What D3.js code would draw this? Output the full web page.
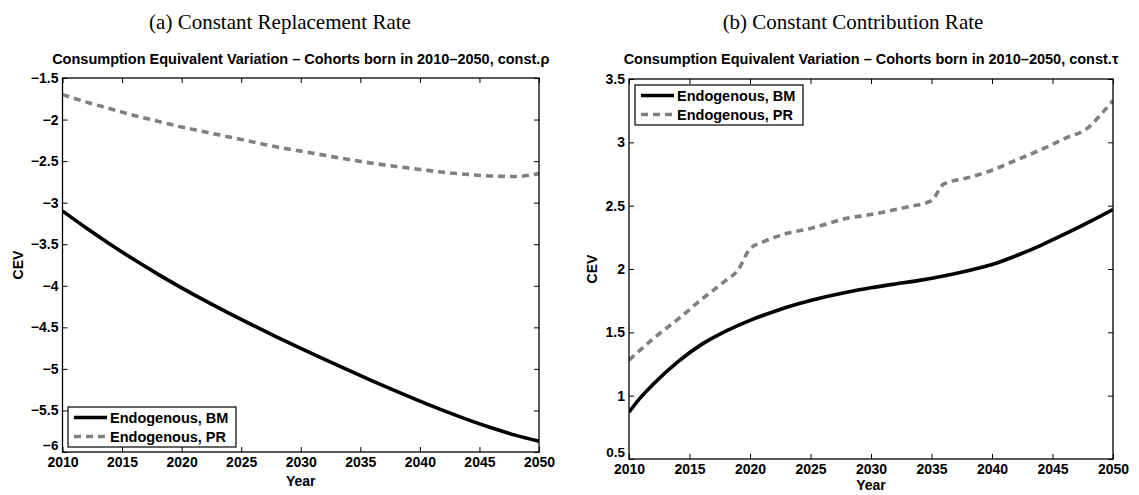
<!DOCTYPE html>
<html><head><meta charset="utf-8">
<script src="https://cdn.jsdelivr.net/npm/d3@7"></script>
<style>
body{margin:0;background:#fff;}
svg{display:block;}
</style></head>
<body><svg id="chart" width="1139" height="495"></svg>
<script>
// ---- data ----
const captions = ["(a) Constant Replacement Rate", "(b) Constant Contribution Rate"];
const chartTitles = ["Consumption Equivalent Variation \u2013 Cohorts born in 2010\u20132050, const.\u03c1",
                     "Consumption Equivalent Variation \u2013 Cohorts born in 2010\u20132050, const.\u03c4"];
const seriesNames = ["Endogenous, BM", "Endogenous, PR"];
const xTicks = [2010, 2015, 2020, 2025, 2030, 2035, 2040, 2045, 2050];
const xTickLabels = ["2010","2015","2020","2025","2030","2035","2040","2045","2050"];
const yTicksA = [-6, -5.5, -5, -4.5, -4, -3.5, -3, -2.5, -2, -1.5];
const yTickLabelsA = ["\u22126","\u22125.5","\u22125","\u22124.5","\u22124","\u22123.5","\u22123","\u22122.5","\u22122","\u22121.5"];
const yTicksB = [0.5, 1, 1.5, 2, 2.5, 3, 3.5];
const yTickLabelsB = ["0.5","1","1.5","2","2.5","3","3.5"];

const yearsA = [2010,2012,2014,2016,2018,2020,2022,2024,2026,2028,2030,2032,2034,2036,2038,2040,2042,2044,2046,2048,2050];
const bmA = [-3.10,-3.305,-3.50,-3.685,-3.86,-4.025,-4.182,-4.332,-4.477,-4.617,-4.753,-4.886,-5.016,-5.143,-5.267,-5.387,-5.502,-5.61,-5.709,-5.797,-5.87];
const prA = [-1.70,-1.79,-1.87,-1.95,-2.02,-2.09,-2.15,-2.21,-2.27,-2.33,-2.38,-2.43,-2.48,-2.525,-2.565,-2.60,-2.635,-2.66,-2.68,-2.685,-2.65];

const yearsBM_B = [2010,2011,2012,2014,2016,2018,2020,2022,2024,2026,2028,2030,2032,2034,2036,2038,2040,2042,2044,2046,2048,2050];
const bmB = [0.87,0.99,1.09,1.265,1.405,1.51,1.595,1.665,1.725,1.775,1.817,1.852,1.882,1.91,1.945,1.987,2.035,2.105,2.185,2.275,2.37,2.47];
const yearsPR_B = [2010,2012,2014,2016,2018,2019,2020,2021,2023,2025,2028,2030,2033,2035,2036,2038,2040,2042,2044,2046,2048,2049,2050];
const prB = [1.28,1.45,1.60,1.76,1.91,1.99,2.16,2.21,2.28,2.32,2.40,2.43,2.49,2.54,2.67,2.72,2.78,2.86,2.94,3.03,3.12,3.22,3.33];

// ---- layout ----
const panels = [
  {caption: captions[0], title: chartTitles[0], x0: 62.5, x1: 539, y0: 78, y1: 452,
   yDomain: [-6, -1.5], yTicks: yTicksA, yLabels: yTickLabelsA,
   bm: yearsA.map((y,i)=>[y,bmA[i]]), pr: yearsA.map((y,i)=>[y,prA[i]]),
   capX: 280, ylabX: 18, yearY: 486, legend: {x: 68, y: 407}},
  {caption: captions[1], title: chartTitles[1], x0: 629, x1: 1113, y0: 79, y1: 459,
   yDomain: [0.5, 3.5], yTicks: yTicksB, yLabels: yTickLabelsB,
   bm: yearsBM_B.map((y,i)=>[y,bmB[i]]), pr: yearsPR_B.map((y,i)=>[y,prB[i]]),
   capX: 853, ylabX: 592, yearY: 490, legend: {x: 635, y: 85}}
];

const svg = d3.select("#chart");
const font = "'Liberation Sans', Arial, Helvetica, sans-serif";
const serif = "'Liberation Serif', 'Times New Roman', serif";
const gray = "#808080";

panels.forEach(p => {
  const x = d3.scaleLinear().domain([2010, 2050]).range([p.x0, p.x1]);
  const y = d3.scaleLinear().domain(p.yDomain).range([p.y1, p.y0]);
  const g = svg.append("g");

  // caption
  g.append("text").attr("x", p.capX).attr("y", 29).attr("text-anchor", "middle")
    .attr("font-family", serif).attr("font-size", 21).text(p.caption);

  // chart title
  g.append("text").attr("x", (p.x0 + p.x1) / 2).attr("y", 64).attr("text-anchor", "middle")
    .attr("font-family", font).attr("font-weight", "bold").attr("font-size", 14.5)
    .text(p.title);

  // axes
  const xAxisB = d3.axisBottom(x).tickValues(xTicks).tickFormat((d,i)=>xTickLabels[i])
    .tickSizeInner(-5).tickSizeOuter(0).tickPadding(5);
  const xAxisT = d3.axisTop(x).tickValues(xTicks).tickFormat("").tickSizeInner(-5).tickSizeOuter(0);
  const yAxisL = d3.axisLeft(y).tickValues(p.yTicks).tickFormat((d,i)=>p.yLabels[i])
    .tickSizeInner(-5).tickSizeOuter(0).tickPadding(4);
  const yAxisR = d3.axisRight(y).tickValues(p.yTicks).tickFormat("").tickSizeInner(-5).tickSizeOuter(0);

  const styleAxis = sel => {
    sel.select(".domain").remove();
    sel.selectAll("line").attr("stroke", "#000").attr("stroke-width", 1);
    sel.selectAll("text").attr("font-family", font).attr("font-weight", "bold")
      .attr("font-size", 14).attr("fill", "#000");
  };
  g.append("g").attr("transform", `translate(0,${p.y1})`).call(xAxisB).call(styleAxis);
  g.append("g").attr("transform", `translate(0,${p.y0})`).call(xAxisT).call(styleAxis);
  const yl = g.append("g").attr("transform", `translate(${p.x0},0)`).call(yAxisL).call(styleAxis);
  // lowest y label sits a little above the corner so it clears the first year label
  yl.selectAll(".tick text").filter((d,i)=>i===0).attr("dy", "-0.2em").attr("font-size", 13.5);
  g.append("g").attr("transform", `translate(${p.x1},0)`).call(yAxisR).call(styleAxis);

  // clip
  const clipId = "clip" + Math.round(p.x0);
  svg.append("clipPath").attr("id", clipId).append("rect")
    .attr("x", p.x0).attr("y", p.y0).attr("width", p.x1 - p.x0).attr("height", p.y1 - p.y0);

  const line = d3.line().x(d => x(d[0])).y(d => y(d[1])).curve(d3.curveMonotoneX);
  g.append("path").datum(p.pr).attr("d", line).attr("fill", "none")
    .attr("stroke", gray).attr("stroke-width", 3.6).attr("stroke-dasharray", "7,5")
    .attr("clip-path", `url(#${clipId})`);
  g.append("path").datum(p.bm).attr("d", line).attr("fill", "none")
    .attr("stroke", "#000").attr("stroke-width", 3.6)
    .attr("clip-path", `url(#${clipId})`);

  // frame
  g.append("rect").attr("x", p.x0).attr("y", p.y0).attr("width", p.x1 - p.x0).attr("height", p.y1 - p.y0)
    .attr("fill", "none").attr("stroke", "#000").attr("stroke-width", 1.3);

  // axis labels
  g.append("text").attr("x", (p.x0 + p.x1) / 2).attr("y", p.yearY).attr("text-anchor", "middle")
    .attr("font-family", font).attr("font-weight", "bold").attr("font-size", 14).text("Year");
  g.append("text").attr("transform", `translate(${p.ylabX + 5},${(p.y0 + p.y1) / 2}) rotate(-90)`)
    .attr("text-anchor", "middle").attr("font-family", font).attr("font-weight", "bold")
    .attr("font-size", 14).text("CEV");

  // legend
  const L = p.legend;
  const lg = g.append("g").attr("transform", `translate(${L.x},${L.y})`);
  lg.append("rect").attr("width", 168).attr("height", 40).attr("fill", "#fff")
    .attr("stroke", "#000").attr("stroke-width", 1.2);
  [{c: "#000", dash: null}, {c: gray, dash: "7,5"}].forEach((s, i) => {
    const yy = 10.5 + i * 19;
    lg.append("line").attr("x1", 6).attr("x2", 39).attr("y1", yy).attr("y2", yy)
      .attr("stroke", s.c).attr("stroke-width", 3.6).attr("stroke-dasharray", s.dash);
    lg.append("text").attr("x", 42).attr("y", yy + 5).attr("font-family", font)
      .attr("font-weight", "bold").attr("font-size", 14.5).text(seriesNames[i]);
  });
});
</script>
</body></html>
